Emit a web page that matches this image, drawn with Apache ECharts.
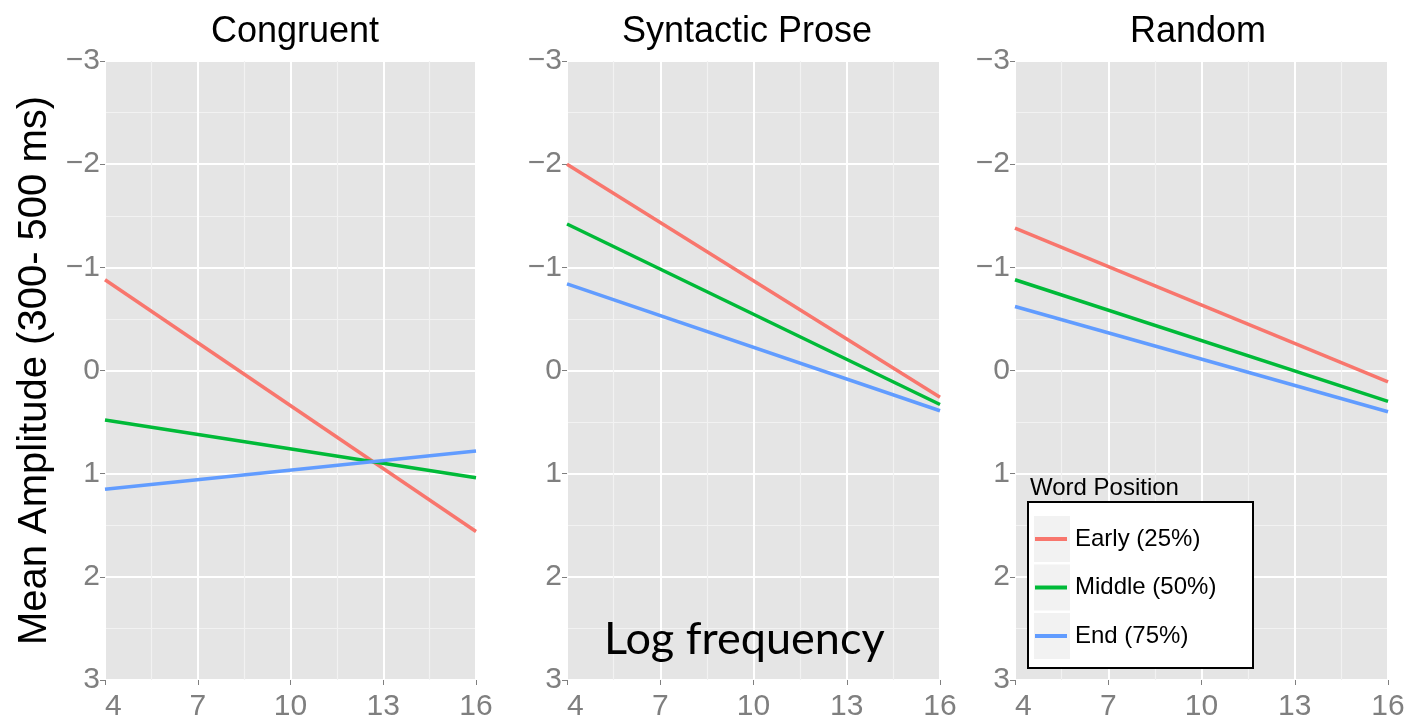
<!DOCTYPE html>
<html>
<head>
<meta charset="utf-8">
<script src="https://cdn.jsdelivr.net/npm/echarts@6/dist/echarts.min.js"></script>
<style>
  html, body { margin: 0; padding: 0; background: #fff; }
  #chart { width: 1421px; height: 724px; }
</style>
</head>
<body>
<div id="chart"></div>
<script>
// data (mean amplitude at log frequency 4 and 16)
const panelTitles = ['Congruent', 'Syntactic Prose', 'Random']
const positionNames = ['Early (25%)', 'Middle (50%)', 'End (75%)']
const freqRange = [4, 16]
const freqTicks = [4, 7, 10, 13, 16]
const ampTicks = [-3, -2, -1, 0, 1, 2, 3]

const congruentEarly = [-0.88, 1.56]
const congruentMiddle = [0.48, 1.04]
const congruentEnd = [1.15, 0.78]

const syntacticEarly = [-2.0, 0.26]
const syntacticMiddle = [-1.42, 0.33]
const syntacticEnd = [-0.84, 0.39]

const randomEarly = [-1.38, 0.11]
const randomMiddle = [-0.88, 0.3]
const randomEnd = [-0.62, 0.4]

const panelValues = [
  [congruentEarly, congruentMiddle, congruentEnd],
  [syntacticEarly, syntacticMiddle, syntacticEnd],
  [randomEarly, randomMiddle, randomEnd],
]

const COLORS = ['#F8766D', '#00BA38', '#619CFF']
const TICK_GREY = '#7F7F7F'

// x axis is drawn relative to the first tick so that the 4,7,10,13,16 ticks line up
const FREQ_BASE = freqTicks[0]
const FREQ_STEP = freqTicks[1] - freqTicks[0]

const panels = [
  { left: 105, width: 371, titleX: 290 },
  { left: 567, width: 373, titleX: 742 },
  { left: 1015, width: 373, titleX: 1193 },
]

const chart = echarts.init(document.getElementById('chart'))

const grid = panels.map((p) => ({
  left: p.left,
  top: 61,
  width: p.width,
  height: 619,
  show: true,
  backgroundColor: '#E5E5E5',
  borderWidth: 0,
}))

const xAxis = panels.map((p, i) => ({
  type: 'value',
  gridIndex: i,
  position: 'bottom',
  min: freqRange[0] - FREQ_BASE,
  max: freqRange[1] - FREQ_BASE,
  interval: FREQ_STEP,
  axisLine: { show: false, onZero: false },
  axisTick: { show: true, length: 5, lineStyle: { color: TICK_GREY, width: 1 } },
  axisLabel: {
    fontSize: 30,
    color: TICK_GREY,
    fontFamily: 'Liberation Sans',
    margin: 12,
    alignMinLabel: 'left',
    formatter: (v) => String(v + FREQ_BASE),
  },
  splitLine: { show: true, lineStyle: { color: '#FFFFFF', width: 2 } },
  minorTick: { show: false, splitNumber: 2 },
  minorSplitLine: { show: true, lineStyle: { color: '#F2F2F2', width: 1.2 } },
}))

const yAxis = panels.map((p, i) => ({
  type: 'value',
  gridIndex: i,
  position: 'left',
  inverse: true,
  min: ampTicks[0],
  max: ampTicks[ampTicks.length - 1],
  interval: 1,
  name: i === 0 ? 'Mean Amplitude (300- 500 ms)' : '',
  nameLocation: 'middle',
  nameGap: 50,
  nameRotate: 90,
  nameTextStyle: { fontSize: 40, color: '#000', fontFamily: 'Liberation Sans' },
  axisLine: { show: false, onZero: false },
  axisTick: { show: true, length: 5, lineStyle: { color: TICK_GREY, width: 1 } },
  axisLabel: {
    fontSize: 30,
    color: TICK_GREY,
    fontFamily: 'Liberation Sans',
    margin: 5,
    formatter: (v) => String(v).replace('-', '\u2212'),
  },
  splitLine: { show: true, lineStyle: { color: '#FFFFFF', width: 2 } },
  minorTick: { show: false, splitNumber: 2 },
  minorSplitLine: { show: true, lineStyle: { color: '#F2F2F2', width: 1.2 } },
}))

const series = []
panelValues.forEach((rows, pi) => {
  rows.forEach((vals, ri) => {
    series.push({
      name: positionNames[ri],
      type: 'line',
      xAxisIndex: pi,
      yAxisIndex: pi,
      data: freqRange.map((f, k) => [f - FREQ_BASE, vals[k]]),
      showSymbol: false,
      silent: true,
      color: COLORS[ri],
      lineStyle: { width: 3.5, color: COLORS[ri] },
      z: 2,
    })
  })
})

const title = panels.map((p, i) => ({
  text: panelTitles[i],
  left: p.titleX,
  top: 9,
  textAlign: 'center',
  textStyle: { fontSize: 36, fontWeight: 'normal', color: '#000', fontFamily: 'Liberation Sans' },
}))

// legend frame and grey key squares
const keyRows = [516, 564.5, 613]
const graphic = [
  {
    type: 'rect',
    z: 1,
    shape: { x: 1028, y: 502, width: 225, height: 166 },
    style: { fill: '#FFFFFF', stroke: '#000000', lineWidth: 2 },
  },
  ...keyRows.map((y) => ({
    type: 'rect',
    z: 2,
    shape: { x: 1034, y, width: 36, height: 46 },
    style: { fill: '#F2F2F2' },
  })),
  {
    type: 'text',
    z: 2,
    left: 1030,
    top: 476,
    style: { text: 'Word Position', fontSize: 24, fill: '#000', fontFamily: 'Liberation Sans' },
  },
  {
    type: 'text',
    z: 3,
    left: 604,
    top: 617,
    style: { text: 'Log frequency', fontSize: 45, fill: '#000', fontFamily: 'Lato' },
  },
]

chart.setOption({
  animation: false,
  title,
  grid,
  xAxis,
  yAxis,
  series,
  graphic,
  legend: {
    data: positionNames,
    orient: 'vertical',
    left: 1035,
    top: 525,
    icon: 'rect',
    itemWidth: 32,
    itemHeight: 4,
    itemGap: 20.5,
    padding: 0,
    selectedMode: false,
    z: 4,
    textStyle: { fontSize: 24, lineHeight: 28, color: '#000', fontFamily: 'Liberation Sans', padding: [0, 0, 0, 3] },
  },
})

window.addEventListener('resize', () => chart.resize())
</script>
</body>
</html>
